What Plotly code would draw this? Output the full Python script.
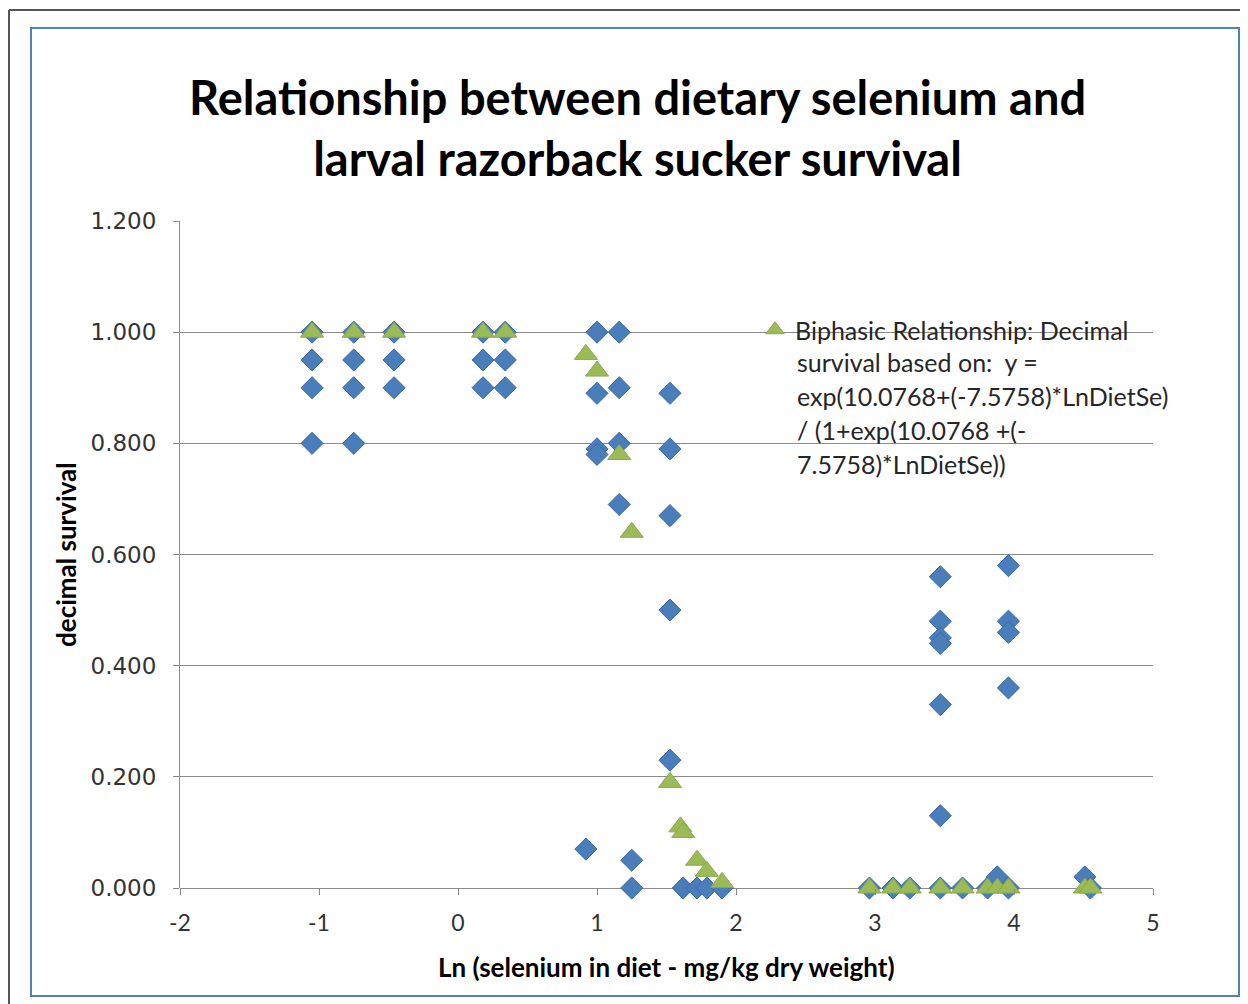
import plotly.graph_objects as go

# observed survival (blue diamonds)
obs_x = [-1.05, -1.05, -1.05, -1.05,
         -0.75, -0.75, -0.75, -0.75,
         -0.46, -0.46, -0.46,
         0.18, 0.18, 0.18,
         0.34, 0.34, 0.34,
         0.92,
         1.0, 1.0, 1.0, 1.0,
         1.16, 1.16, 1.16, 1.16,
         1.25, 1.25,
         1.525, 1.525, 1.525, 1.525, 1.525,
         1.62, 1.72, 1.79, 1.9,
         2.96, 3.13, 3.25,
         3.47, 3.47, 3.47, 3.47, 3.47, 3.47, 3.47,
         3.63, 3.81, 3.88,
         3.96, 3.96, 3.96, 3.96, 3.96,
         4.51, 4.55]
obs_y = [1.0, 0.95, 0.90, 0.80,
         1.0, 0.95, 0.90, 0.80,
         1.0, 0.95, 0.90,
         1.0, 0.95, 0.90,
         1.0, 0.95, 0.90,
         0.07,
         1.0, 0.89, 0.79, 0.78,
         1.0, 0.90, 0.80, 0.69,
         0.05, 0.0,
         0.89, 0.79, 0.67, 0.50, 0.23,
         0.0, 0.0, 0.0, 0.0,
         0.0, 0.0, 0.0,
         0.56, 0.48, 0.45, 0.44, 0.33, 0.13, 0.0,
         0.0, 0.0, 0.02,
         0.58, 0.48, 0.46, 0.36, 0.0,
         0.02, 0.0]

# biphasic model (green triangles)
fit_x = [-1.05, -0.75, -0.46, 0.18, 0.34, 0.92, 1.0, 1.16, 1.25, 1.525,
         1.6, 1.62, 1.72, 1.79, 1.9,
         2.96, 3.13, 3.25, 3.47, 3.63, 3.81, 3.88, 3.96, 4.51, 4.55]
fit_y = [1.0, 1.0, 1.0, 1.0, 1.0, 0.96, 0.93, 0.78, 0.64, 0.19,
         0.11, 0.10, 0.05, 0.03, 0.01,
         0.0, 0.0, 0.0, 0.0, 0.0, 0.0, 0.0, 0.0, 0.0, 0.0]

x_ticks = [-2, -1, 0, 1, 2, 3, 4, 5]
x_tick_labels = ["-2", "-1", "0", "1", "2", "3", "4", "5"]

legend_lines = ["Biphasic Relationship: Decimal",
                "survival based on:  y =",
                "exp(10.0768+(-7.5758)*LnDietSe)",
                "/ (1+exp(10.0768 +(-",
                "7.5758)*LnDietSe))"]

# page sits 8px in from the window edge
OFF = 8
W, H = 1248 - OFF, 1004 - OFF
L, R, T, B = 180, 1153, 221, 888   # plot area in window pixels
FONT = "Lato"


def px(x):
    return (x - L) / (R - L)


def py(y):
    return (B - y) / (B - T)


fig = go.Figure()

fig.add_trace(go.Scatter(
    x=obs_x, y=obs_y, mode="markers", name="observed", showlegend=False,
    cliponaxis=False,
    marker=dict(symbol="diamond", size=17, color="#4a7ebb",
                line=dict(width=1, color="#3b67a8"))))

fig.add_trace(go.Scatter(
    x=fit_x, y=fit_y, mode="markers", name=legend_lines[0], showlegend=True,
    cliponaxis=False,
    marker=dict(symbol="triangle-up", size=20, color="#9bbb59",
                line=dict(width=1, color="#8aa84a"))))

annotations = []
for i, line in enumerate(legend_lines[1:], start=1):
    annotations.append(dict(
        text=line, xref="paper", yref="paper", x=px(795), y=py(328 + 34 * i),
        xanchor="left", yanchor="middle", showarrow=False,
        font=dict(family=FONT, size=25, color="#262626")))

annotations.append(dict(
    text="<b>decimal survival</b>", xref="paper", yref="paper",
    x=px(66), y=py(555), textangle=-90, showarrow=False,
    xanchor="center", yanchor="middle",
    font=dict(family=FONT, size=26, color="#000")))
annotations.append(dict(
    text="<b>Ln (selenium in diet - mg/kg dry weight)</b>", xref="paper", yref="paper",
    x=px(666), y=py(967), showarrow=False, xanchor="center", yanchor="middle",
    font=dict(family=FONT, size=26, color="#000")))
annotations.append(dict(
    text="<b>Relationship between dietary selenium and<br>larval razorback sucker survival</b>",
    xref="paper", yref="paper", x=px(637), y=py(128), showarrow=False,
    xanchor="center", yanchor="middle",
    font=dict(family=FONT, size=47, color="#000")))

shapes = [
    # outer gray frame
    dict(type="line", xref="paper", yref="paper", x0=px(9), x1=px(1248), y0=py(10), y1=py(10),
         line=dict(color="#555", width=2)),
    dict(type="line", xref="paper", yref="paper", x0=px(9), x1=px(9), y0=py(10), y1=py(1004),
         line=dict(color="#555", width=2)),
    # blue chart border
    dict(type="rect", xref="paper", yref="paper", x0=px(31), x1=px(1239), y0=py(28), y1=py(996),
         line=dict(color="#4f81bd", width=2)),
]

fig.update_layout(
    width=W, height=H,
    margin=dict(l=L - OFF, r=W - (R - OFF), t=T - OFF, b=H - (B - OFF)),
    plot_bgcolor="white", paper_bgcolor="white",
    annotations=annotations, shapes=shapes,
    legend=dict(x=px(755), y=py(307), xanchor="left", yanchor="top",
                bgcolor="rgba(0,0,0,0)", font=dict(family=FONT, size=25, color="#262626"),
                itemwidth=30),
)

fig.update_xaxes(range=[-2, 5], tickvals=x_ticks, ticktext=x_tick_labels,
                 showgrid=False, zeroline=False,
                 showline=False, ticks="outside", ticklen=6, tickcolor="#888",
                 ticklabelstandoff=8,
                 tickfont=dict(family=FONT, size=23, color="#333"))
fig.update_yaxes(range=[0, 1.2], dtick=0.2, tickformat=".3f", showgrid=True,
                 gridcolor="#8c8c8c", gridwidth=1, zeroline=True, zerolinecolor="#8c8c8c",
                 zerolinewidth=1, showline=True, linecolor="#8c8c8c", linewidth=1,
                 ticks="outside", ticklen=6, tickcolor="#888",
                 ticklabelstandoff=12,
                 tickfont=dict(family="DejaVu Sans", size=23, color="#333"))

fig.write_html("out.html")
